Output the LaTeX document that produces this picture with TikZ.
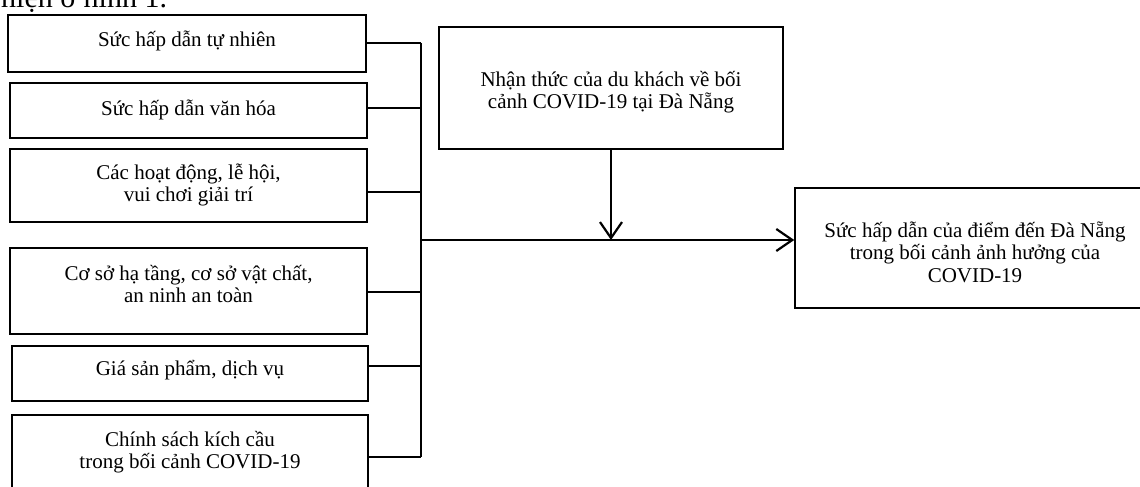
\documentclass[tikz,border=0pt]{standalone}
\usepackage{fontspec}
\setmainfont{Liberation Serif}
\usetikzlibrary{arrows.meta}
\begin{document}
\begin{tikzpicture}[x=1pt,y=-1pt,
  box/.style={draw, line width=1.5pt, inner sep=0pt},
  lbl/.style={font=\fontsize{21}{22.5}\selectfont, align=center, inner sep=0pt},
  conn/.style={line width=2.2pt},
  arr/.style={conn, -{Straight Barb[length=16pt,width=22pt,line width=2.2pt]}}]
\useasboundingbox (0,0) rectangle (1140,487);
\clip (0,0) rectangle (1140,487);
% cut-off text at the top
\node[inner sep=0pt, font=\fontsize{30}{32}\selectfont, anchor=base west] (top) at (1,8) {hiện ở hình 1.};
% left boxes
\node[box, minimum width=358, minimum height=57] (b1) at (187,43.5) {};
\node[lbl] (l1) at (187,41) {Sức hấp dẫn tự nhiên};
\node[box, minimum width=357, minimum height=55] (b2) at (188.5,110.5) {};
\node[lbl] (l2) at (188.5,110) {Sức hấp dẫn văn hóa};
\node[box, minimum width=357, minimum height=73] (b3) at (188.5,185.5) {};
\node[lbl] (l3) at (188.5,185) {Các hoạt động, lễ hội,\\ vui chơi giải trí};
\node[box, minimum width=357, minimum height=86] (b4) at (188.5,291) {};
\node[lbl] (l4) at (188.5,284) {Cơ sở hạ tầng, cơ sở vật chất,\\ an ninh an toàn};
\node[box, minimum width=356, minimum height=55] (b5) at (190,373.5) {};
\node[lbl] (l5) at (190,370) {Giá sản phẩm, dịch vụ};
\node[box, minimum width=356, minimum height=85] (b6) at (190,457.5) {};
\node[lbl] (l6) at (190,452) {Chính sách kích cầu\\ trong bối cảnh COVID-19};
% middle box
\node[box, minimum width=344, minimum height=122] (mid) at (611,88) {};
\node[lbl] (lm) at (611,92) {Nhận thức của du khách về bối\\ cảnh COVID-19 tại Đà Nẵng};
% right box (runs past the right edge)
\node[box, minimum width=360, minimum height=120] (res) at (975,248) {};
\node[lbl] (lr) at (975,252) {Sức hấp dẫn của điểm đến Đà Nẵng\\ trong bối cảnh ảnh hưởng của\\ COVID-19};
% bus coordinates
\coordinate (t1) at (421,43);
\coordinate (t2) at (421,108);
\coordinate (t3) at (421,192);
\coordinate (t4) at (421,292);
\coordinate (t5) at (421,366);
\coordinate (t6) at (421,457);
\coordinate (j) at (421,240);
\draw[conn] (b1.east |- t1) -- (t1);
\draw[conn] (b2.east |- t2) -- (t2);
\draw[conn] (b3.east |- t3) -- (t3);
\draw[conn] (b4.east |- t4) -- (t4);
\draw[conn] (b5.east |- t5) -- (t5);
\draw[conn] (b6.east |- t6) -- (t6);
\draw[conn] (t1) -- (t6);
\draw[arr] (j) -- (res.west |- j);
\draw[arr] (mid.south) -- (mid.south |- j);
\end{tikzpicture}
\end{document}
